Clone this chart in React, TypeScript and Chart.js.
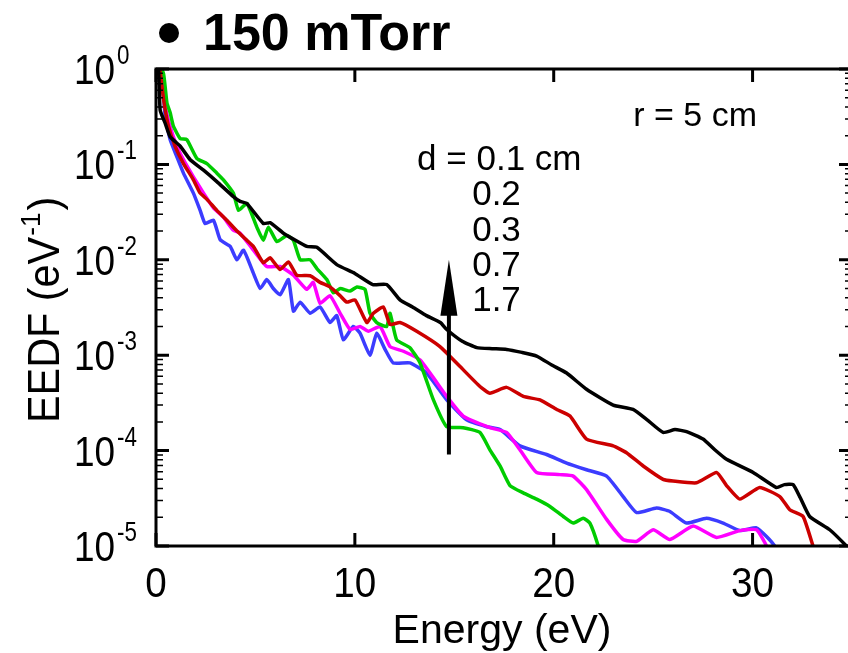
import React, { useEffect, useRef } from "react";
import { Chart, registerables } from "chart.js";

Chart.register(...registerables);

// ---------- data (Energy in eV, EEDF in eV^-1) ----------
const energyBlack = [0.05, 0.13, 0.21, 0.46, 0.71, 1.22, 1.72, 2.39, 3.06, 3.89, 4.23, 4.57, 5.4, 5.74, 6.41, 7.58, 8.09, 9.09, 10.0, 10.9, 11.6, 12.27, 12.9, 13.6, 14.3, 14.62, 15.4, 16.13, 16.9, 17.63, 18.4, 19.14, 19.9, 20.65, 21.65, 22.99, 23.99, 24.7, 25.5, 26.1, 26.68, 27.51, 28.1, 28.69, 30.03, 31.2, 31.6, 32.04, 32.4, 32.87, 33.88, 34.72, 35];
const eedfBlack = [1.2, 0.98, 0.37, 0.27, 0.195, 0.155, 0.112, 0.087, 0.066, 0.046, 0.041, 0.039, 0.024, 0.0245, 0.019, 0.0138, 0.0135, 0.0089, 0.0072, 0.0055, 0.0055, 0.0038, 0.0032, 0.0026, 0.0022, 0.00186, 0.0014, 0.0012, 0.00117, 0.00115, 0.00107, 0.00098, 0.00079, 0.00065, 0.00044, 0.0003, 0.00027, 0.00021, 0.000155, 0.000166, 0.000158, 0.000132, 0.000102, 0.000081, 0.000059, 0.000041, 0.000044, 0.000044, 0.000032, 0.0000204, 0.0000148, 0.00001, 0.0000085];

const energyRed = [0.05, 0.21, 0.38, 0.63, 0.96, 1.38, 1.88, 2.22, 2.56, 3.06, 3.56, 4.07, 4.57, 4.9, 5.4, 5.74, 6.24, 6.66, 7.08, 7.75, 8.25, 8.75, 9.26, 9.59, 10.01, 10.6, 10.93, 11.43, 11.77, 12.27, 13.11, 14.28, 15.29, 16.29, 16.79, 17.63, 18.47, 19.31, 20.15, 20.82, 21.65, 22.99, 23.66, 24.5, 25.5, 26.0, 27.18, 28.19, 28.69, 29.36, 30.36, 31.37, 31.87, 32.54, 33.04, 33.3];
const eedfRed = [1.3, 0.93, 0.48, 0.25, 0.155, 0.102, 0.069, 0.05, 0.043, 0.033, 0.026, 0.02, 0.016, 0.0138, 0.0093, 0.0105, 0.0079, 0.0095, 0.0069, 0.0068, 0.0058, 0.0052, 0.0042, 0.0036, 0.0038, 0.0022, 0.00275, 0.0032, 0.0021, 0.0022, 0.00178, 0.00123, 0.00076, 0.00047, 0.0004, 0.00046, 0.00037, 0.00034, 0.00027, 0.00023, 0.000132, 0.000112, 0.000095, 0.000069, 0.00005, 0.000048, 0.000046, 0.000059, 0.000043, 0.000031, 0.000041, 0.000033, 0.000024, 0.0000204, 0.00001, 0.000007];

const energyGreen = [0.05, 0.38, 0.55, 0.71, 0.88, 1.22, 1.55, 2.06, 2.56, 3.06, 3.39, 3.89, 4.15, 4.57, 5.07, 5.4, 5.65, 6.08, 6.58, 6.91, 7.25, 7.75, 8.09, 8.59, 8.92, 9.26, 9.76, 10.1, 10.51, 10.76, 11.1, 11.6, 11.77, 12.1, 12.77, 13.28, 13.95, 14.62, 15.45, 16.29, 16.79, 17.3, 17.8, 18.47, 19.14, 19.81, 20.48, 20.98, 21.48, 21.82, 22.24, 22.4];
const eedfGreen = [1.3, 0.89, 0.44, 0.35, 0.25, 0.186, 0.182, 0.115, 0.102, 0.081, 0.069, 0.05, 0.033, 0.039, 0.022, 0.016, 0.022, 0.0155, 0.018, 0.016, 0.01, 0.01, 0.0081, 0.0062, 0.0045, 0.005, 0.0047, 0.0052, 0.0049, 0.00275, 0.0022, 0.002, 0.00275, 0.00145, 0.0012, 0.00083, 0.00034, 0.000178, 0.000174, 0.000155, 0.000102, 0.000069, 0.000043, 0.000036, 0.000031, 0.000026, 0.0000204, 0.0000174, 0.0000195, 0.0000174, 0.00001, 0.000007];

const energyMagenta = [0.05, 0.3, 0.46, 0.71, 1.05, 1.38, 1.88, 2.39, 2.89, 3.39, 3.89, 4.23, 4.9, 5.57, 6.24, 6.91, 7.58, 7.91, 8.25, 8.75, 9.26, 9.76, 10.26, 10.68, 11.27, 11.77, 12.44, 13.28, 14.62, 15.45, 16.79, 17.63, 18.3, 19.14, 20.31, 20.98, 21.65, 22.66, 23.49, 24.17, 25.0, 25.84, 27.01, 28.19, 29.36, 30.2, 30.7, 30.9];
const eedfMagenta = [1.3, 0.89, 0.41, 0.25, 0.155, 0.112, 0.074, 0.05, 0.035, 0.028, 0.0204, 0.019, 0.0126, 0.0085, 0.0085, 0.0069, 0.0049, 0.0058, 0.0035, 0.0042, 0.00275, 0.00186, 0.002, 0.00178, 0.002, 0.00123, 0.0011, 0.00089, 0.00037, 0.00023, 0.000174, 0.000155, 0.000102, 0.000059, 0.000056, 0.000054, 0.000039, 0.000019, 0.0000117, 0.0000112, 0.0000148, 0.0000117, 0.0000162, 0.0000123, 0.0000145, 0.0000148, 0.00001, 0.000007];

const energyBlue = [0.05, 0.3, 0.46, 0.71, 1.05, 1.38, 1.88, 2.22, 2.47, 2.89, 3.23, 3.73, 4.07, 4.4, 4.9, 5.24, 5.57, 5.9, 6.24, 6.66, 6.91, 7.25, 7.75, 8.25, 8.75, 9.09, 9.42, 9.92, 10.26, 10.76, 11.1, 11.52, 11.93, 12.77, 13.61, 14.62, 15.62, 16.63, 17.3, 18.3, 19.64, 20.65, 21.65, 22.66, 23.49, 24.17, 25.17, 25.84, 26.68, 27.68, 28.52, 29.36, 30.2, 30.7, 31.11, 31.3];
const eedfBlue = [1.3, 0.89, 0.32, 0.182, 0.12, 0.081, 0.05, 0.033, 0.024, 0.026, 0.0162, 0.0138, 0.01, 0.0126, 0.0072, 0.005, 0.0062, 0.005, 0.0043, 0.0062, 0.0029, 0.0036, 0.00275, 0.0032, 0.0022, 0.0026, 0.00145, 0.002, 0.0017, 0.001, 0.0017, 0.00115, 0.00083, 0.00083, 0.00065, 0.00034, 0.00021, 0.000178, 0.000166, 0.000112, 0.000091, 0.000074, 0.000063, 0.000054, 0.000033, 0.0000224, 0.000025, 0.000023, 0.0000174, 0.0000195, 0.0000174, 0.0000145, 0.0000155, 0.0000126, 0.00001, 0.000008];

const seriesLabels = ["d = 1.7 cm", "d = 0.7 cm", "d = 0.3 cm", "d = 0.2 cm", "d = 0.1 cm"];
const seriesColors = ["#000000", "#cc0000", "#00cc00", "#ff00ff", "#3c3cff"];

const xTicks = [0, 10, 20, 30];
const yTickExponents = [0, -1, -2, -3, -4, -5];
const xMin = 0;
const xMax = 35;
const yMin = 1e-5;
const yMax = 1;

const titleText = "150 mTorr";
const xTitle = "Energy (eV)";
const yTitleMain = "EEDF (eV";
const yTitleSup = "-1";
const radiusText = "r = 5 cm";
const distanceLines = ["d = 0.1 cm", "0.2", "0.3", "0.7", "1.7"];

// annotation anchors in data units
const radiusAnchor = { x: 24.0, y: 0.253 };
const distanceAnchor = { x: 13.13, y: 0.0875 };
const distanceNumbersX = 15.9;
const arrowEnergy = 14.73;
const arrowFrom = 9.1e-5;
const arrowTo = 1e-2;

const FONT = '"Liberation Sans", Arial, Helvetica, sans-serif';

function drawText(
  ctx: CanvasRenderingContext2D,
  s: string,
  x: number,
  y: number,
  size: number,
  align: CanvasTextAlign = "left",
  sx = 1,
  bold = false
) {
  ctx.save();
  ctx.font = `${bold ? "bold " : ""}${size}px ${FONT}`;
  ctx.textBaseline = "alphabetic";
  ctx.textAlign = align;
  ctx.fillStyle = "#000";
  ctx.translate(x, y);
  ctx.scale(sx, 1);
  ctx.fillText(s, 0, 0);
  ctx.restore();
}

const decorPlugin = {
  id: "decor",
  afterDatasetsDraw(chart: any) {
    const ctx: CanvasRenderingContext2D = chart.ctx;
    const { left, right, top, bottom } = chart.chartArea;
    const xs = chart.scales.x;
    const ys = chart.scales.y;
    ctx.save();
    ctx.strokeStyle = "#000";
    ctx.fillStyle = "#000";

    // frame
    ctx.lineWidth = 3;
    ctx.strokeRect(left, top, right - left, bottom - top);

    // x ticks (inward, bottom and top)
    for (const v of xTicks) {
      const px = xs.getPixelForValue(v);
      ctx.lineWidth = 3;
      ctx.beginPath();
      ctx.moveTo(px, bottom);
      ctx.lineTo(px, bottom - 13);
      ctx.moveTo(px, top);
      ctx.lineTo(px, top + 13);
      ctx.stroke();
      drawText(ctx, String(v), px, bottom + 51, 42, "center", 0.92);
    }

    // y ticks
    for (const e of yTickExponents) {
      const py = ys.getPixelForValue(Math.pow(10, e));
      ctx.lineWidth = 3;
      ctx.beginPath();
      ctx.moveTo(left, py);
      ctx.lineTo(left + 13, py);
      ctx.moveTo(right, py);
      ctx.lineTo(right - 13, py);
      ctx.stroke();
      drawText(ctx, "10", 115, py + 15, 42, "right", 0.88);
      drawText(ctx, String(e), 117, py - 5, 28, "left", 0.8);
      if (e > -5) {
        ctx.lineWidth = 1.5;
        for (let m = 2; m <= 9; m++) {
          const pm = ys.getPixelForValue(m * Math.pow(10, e - 1));
          ctx.beginPath();
          ctx.moveTo(left, pm);
          ctx.lineTo(left + 7, pm);
          ctx.moveTo(right, pm);
          ctx.lineTo(right - 7, pm);
          ctx.stroke();
        }
      }
    }

    // axis titles
    drawText(ctx, xTitle, (left + right) / 2 - 2, bottom + 97, 41, "center", 1);
    ctx.save();
    ctx.translate(59, 423);
    ctx.rotate(-Math.PI / 2);
    const mainSize = 44;
    const mainSx = 0.94;
    const supSize = 28;
    ctx.font = `${mainSize}px ${FONT}`;
    const wMain = ctx.measureText(yTitleMain).width * mainSx;
    drawText(ctx, yTitleMain, 0, 0, mainSize, "left", mainSx);
    ctx.font = `${supSize}px ${FONT}`;
    const wSup = ctx.measureText(yTitleSup).width * mainSx;
    drawText(ctx, yTitleSup, wMain + 1, -19, supSize, "left", mainSx);
    drawText(ctx, ")", wMain + wSup + 3, 0, mainSize, "left", mainSx);
    ctx.restore();

    // title
    ctx.beginPath();
    ctx.arc(169, 33, 10, 0, Math.PI * 2);
    ctx.fill();
    drawText(ctx, titleText, 203, 50, 52, "left", 1, true);

    // annotations
    drawText(ctx, radiusText, xs.getPixelForValue(radiusAnchor.x), ys.getPixelForValue(radiusAnchor.y), 34, "left", 1);
    const dx = xs.getPixelForValue(distanceAnchor.x);
    const dy = ys.getPixelForValue(distanceAnchor.y);
    const nx = xs.getPixelForValue(distanceNumbersX);
    distanceLines.forEach((s, i) => {
      drawText(ctx, s, i === 0 ? dx : nx, dy + i * 35.3, 35, "left", 1);
    });

    // arrow
    const ax = xs.getPixelForValue(arrowEnergy);
    const yTip = ys.getPixelForValue(arrowTo);
    const yTail = ys.getPixelForValue(arrowFrom);
    const headLen = 56;
    ctx.lineWidth = 4;
    ctx.beginPath();
    ctx.moveTo(ax, yTail);
    ctx.lineTo(ax, yTip + headLen - 4);
    ctx.stroke();
    ctx.beginPath();
    ctx.moveTo(ax, yTip);
    ctx.lineTo(ax - 8.5, yTip + headLen);
    ctx.lineTo(ax + 8.5, yTip + headLen);
    ctx.closePath();
    ctx.fill();

    ctx.restore();
  },
};

function toPoints(xs: number[], ys: number[]) {
  return xs.map((x, i) => ({ x, y: ys[i] }));
}

export default function App() {
  const ref = useRef<HTMLCanvasElement | null>(null);
  useEffect(() => {
    if (!ref.current) return;
    const energies = [energyBlack, energyRed, energyGreen, energyMagenta, energyBlue];
    const values = [eedfBlack, eedfRed, eedfGreen, eedfMagenta, eedfBlue];
    const chart = new Chart(ref.current, {
      type: "line",
      data: {
        datasets: energies.map((e, i) => ({
          label: seriesLabels[i],
          data: toPoints(e, values[i]),
          borderColor: seriesColors[i],
          backgroundColor: seriesColors[i],
          borderWidth: 3.5,
          pointRadius: 0,
          tension: 0.15,
          fill: false,
        })),
      },
      options: {
        responsive: false,
        animation: false,
        layout: { padding: { left: 156, right: 18, top: 69, bottom: 107 } },
        plugins: { legend: { display: false }, tooltip: { enabled: false }, title: { display: false } },
        scales: {
          x: { type: "linear", min: xMin, max: xMax, display: false },
          y: { type: "logarithmic", min: yMin, max: yMax, display: false },
        },
      },
      plugins: [decorPlugin],
    });
    return () => chart.destroy();
  }, []);
  return (
    <div style={{ position: "fixed", left: 0, top: 0, width: 848, height: 653, overflow: "hidden", background: "#fff" }}>
      <canvas ref={ref} width={870} height={653} style={{ display: "block", width: 870, height: 653 }} />
    </div>
  );
}
